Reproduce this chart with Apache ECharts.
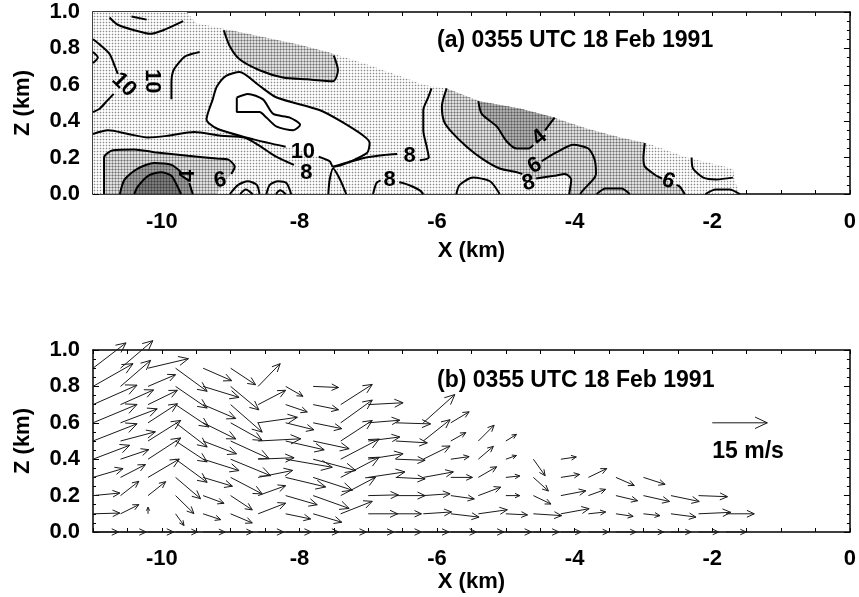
<!DOCTYPE html>
<html>
<head>
<meta charset="utf-8">
<script src="https://cdn.jsdelivr.net/npm/echarts/dist/echarts.min.js"></script>
<style>
html,body{margin:0;padding:0;background:#fff;}
#chart{width:859px;height:597px;}
</style>
</head>
<body>
<div id="chart"></div>
<script>
// ======================= DATA =======================
const X_TICK_LABELS = [-10, -8, -6, -4, -2, 0];
const Z_TICK_LABELS = [0.0, 0.2, 0.4, 0.6, 0.8, 1.0];
const X_AXIS_NAME = 'X (km)';
const Z_AXIS_NAME = 'Z (km)';
const TITLE_A = '(a) 0355 UTC 18 Feb 1991';
const TITLE_B = '(b) 0355 UTC 18 Feb 1991';
const TITLE_POS_A = [-6.0, 0.845];
const TITLE_POS_B = [-6.0, 0.83];
const REF_VECTOR = [-2.0, 0.6, 15, 0];       // x, z, u (m/s), w
const REF_LABEL = '15 m/s';
const REF_LABEL_POS = [-2.0, 0.44];
const REF_VECTOR_KM = 0.8;                   // 15 m/s drawn as 0.8 km of x

// ---- panel (a): shaded regions (x km, z km) ----
const DATA_REGION = [[-11,0],[-11,1.0],[-9.64,1.0],[-9.5,0.94],[-9.0,0.9],[-8.5,0.86],[-8.0,0.82],[-7.5,0.77],[-7.0,0.71],[-6.55,0.65],[-6.2,0.6],[-5.86,0.58],[-5.38,0.51],[-4.8,0.47],[-4.31,0.42],[-3.83,0.36],[-3.34,0.31],[-2.95,0.28],[-2.37,0.2],[-1.7,0.14],[-1.66,0.06],[-1.6,0]];
const REGION_UPPER_MID = [[-9.1,0.9],[-9.01,0.81],[-8.87,0.74],[-8.58,0.68],[-8.24,0.64],[-7.89,0.63],[-7.51,0.62],[-7.44,0.68],[-7.5,0.77],[-8.0,0.82],[-8.5,0.86],[-9.0,0.9]];
const REGION_LOW_LEFT = [[-10.84,0],[-10.84,0.2],[-10.71,0.24],[-10.4,0.245],[-10.11,0.23],[-9.62,0.21],[-9.2,0.195],[-9.04,0.19],[-8.94,0.15],[-8.99,0.11],[-9.1,0.06],[-9.2,0]];
const REGION_RIGHT = [[-5.86,0.58],[-5.38,0.51],[-4.8,0.47],[-4.31,0.42],[-3.83,0.36],[-3.34,0.31],[-2.98,0.28],[-3.0,0.2],[-2.98,0.15],[-2.81,0.1],[-2.64,0.07],[-2.47,0.04],[-2.4,0],[-4.08,0],[-4.05,0.08],[-4.14,0.11],[-4.3,0.1],[-4.55,0.08],[-4.67,0.08],[-4.75,0.11],[-4.84,0.12],[-5.09,0.14],[-5.33,0.19],[-5.57,0.26],[-5.81,0.35],[-5.9,0.4],[-5.93,0.48]];
const REGION_FOUR = [[-5.4,0.51],[-5.35,0.44],[-5.13,0.37],[-4.99,0.29],[-4.84,0.25],[-4.67,0.25],[-4.51,0.31],[-4.39,0.37],[-4.29,0.42],[-4.8,0.47]];
const REGION_BAND = [[-10.61,0],[-10.54,0.08],[-10.35,0.14],[-10.11,0.17],[-9.86,0.16],[-9.69,0.11],[-9.6,0.07],[-9.55,0]];
const REGION_CORE = [[-10.4,0],[-10.35,0.04],[-10.2,0.1],[-10.01,0.12],[-9.86,0.1],[-9.77,0.04],[-9.72,0]];
const REGION_WHITE = [[-7.72,0.205],[-7.56,0.18],[-7.51,0.15],[-7.02,0.225],[-6.98,0.28],[-7.07,0.32],[-7.4,0.4],[-7.7,0.46],[-8.33,0.53],[-8.6,0.6],[-8.87,0.67],[-9.06,0.65],[-9.2,0.59],[-9.26,0.52],[-9.35,0.41],[-9.2,0.36],[-8.67,0.3],[-8.2,0.26],[-7.95,0.235]];

// ---- panel (a): contour lines ----
const CONTOUR_10_LOOP = [[-7.72,0.205],[-7.56,0.18],[-7.51,0.15],[-7.02,0.225],[-6.98,0.28],[-7.07,0.32],[-7.4,0.4],[-7.7,0.46],[-8.33,0.53],[-8.6,0.6],[-8.87,0.67],[-9.06,0.65],[-9.2,0.59],[-9.26,0.52],[-9.35,0.41],[-9.2,0.36],[-8.67,0.3],[-8.2,0.26]];
const CONTOUR_12 = [[-8.91,0.53],[-8.75,0.55],[-8.53,0.52],[-8.38,0.44],[-8.14,0.42],[-7.99,0.38],[-8.09,0.35],[-8.33,0.37],[-8.48,0.42],[-8.58,0.45],[-8.91,0.45],[-8.91,0.53]];
const CONTOUR_8_LEFT = [[-11,0.33],[-10.78,0.35],[-10.49,0.33],[-10.2,0.31],[-9.91,0.32],[-9.53,0.34],[-9.14,0.32],[-8.8,0.31],[-8.6,0.27],[-8.36,0.21],[-8.08,0.16]];
const CONTOUR_8_WEDGE = [[-7.58,0],[-7.56,0.08],[-7.51,0.14],[-7.41,0.08],[-7.32,0]];
const CONTOUR_8_RIGHT_A = [[-7.51,0.15],[-7.03,0.2],[-6.75,0.215],[-6.58,0.22]];
const CONTOUR_8_RIGHT_B = [[-6.25,0.185],[-6.12,0.2],[-6.15,0.26],[-6.2,0.35],[-6.2,0.46],[-6.13,0.53],[-6.08,0.58]];
const CONTOUR_8_BOTTOM_A = [[-6.93,0],[-6.88,0.06],[-6.82,0.075]];
const CONTOUR_8_BOTTOM_B = [[-6.55,0.065],[-6.49,0.06],[-6.35,0.04],[-6.25,0.02],[-6.2,0]];
const CONTOUR_8_UPPER = [[-9.1,0.9],[-9.01,0.81],[-8.87,0.74],[-8.58,0.68],[-8.24,0.64],[-7.89,0.63],[-7.51,0.62],[-7.44,0.68],[-7.5,0.76]];
const CONTOUR_TOP_LEFT = [[-10.76,0.97],[-10.64,0.93],[-10.4,0.9],[-10.17,0.88],[-9.98,0.9],[-9.69,0.95]];
const CONTOUR_TOP_DASH = [[-10.44,0.975],[-10.22,0.958]];
const CONTOUR_10_LEFT_A = [[-11,0.85],[-10.9,0.82],[-10.76,0.77],[-10.68,0.7],[-10.64,0.66]];
const CONTOUR_10_LEFT_B = [[-10.7,0.55],[-10.8,0.51],[-10.9,0.47],[-11,0.45]];
const CONTOUR_LEFT_BUMP = [[-11,0.78],[-10.93,0.75],[-11,0.72]];
const CONTOUR_10_VERT = [[-9.86,0.52],[-9.86,0.61],[-9.83,0.68],[-9.71,0.74],[-9.64,0.76],[-9.45,0.78]];
const CONTOUR_6_LEFT = [[-10.84,0],[-10.84,0.2],[-10.71,0.24],[-10.4,0.245],[-10.11,0.23],[-9.62,0.21],[-9.2,0.195],[-9.04,0.19],[-8.94,0.15],[-8.99,0.11]];
const CONTOUR_4_ARCH = [[-10.61,0],[-10.54,0.08],[-10.35,0.14],[-10.11,0.17],[-9.86,0.16],[-9.72,0.12]];
const CONTOUR_4_ARCH_END = [[-9.6,0.06],[-9.55,0]];
const CONTOUR_2_ARCH = [[-10.4,0],[-10.35,0.04],[-10.2,0.1],[-10.01,0.12],[-9.86,0.1],[-9.77,0.04],[-9.72,0]];
const CONTOUR_BUMP_1 = [[-9.01,0],[-8.89,0.05],[-8.75,0.07],[-8.62,0.05],[-8.58,0]];
const CONTOUR_BUMP_1_IN = [[-8.86,0],[-8.78,0.025],[-8.68,0]];
const CONTOUR_BUMP_2 = [[-8.48,0],[-8.43,0.05],[-8.31,0.07],[-8.19,0.06],[-8.12,0]];
const CONTOUR_BUMP_2_IN = [[-8.34,0],[-8.28,0.02],[-8.2,0]];
const CONTOUR_BUMP_3 = [[-5.72,0],[-5.67,0.05],[-5.48,0.09],[-5.23,0.07],[-5.09,0]];
const CONTOUR_BUMP_4 = [[-3.68,0],[-3.55,0.03],[-3.32,0.03],[-3.2,0]];
const CONTOUR_BUMP_5 = [[-2.1,0],[-1.95,0.025],[-1.75,0.025],[-1.6,0]];
const CONTOUR_8_MID_RIGHT = [[-5.86,0.58],[-5.93,0.48],[-5.9,0.4],[-5.81,0.35],[-5.57,0.26],[-5.33,0.19],[-5.09,0.14],[-4.84,0.12],[-4.76,0.11]];
const CONTOUR_8_LOWER_RIGHT = [[-4.56,0.085],[-4.3,0.1],[-4.14,0.11],[-4.05,0.08],[-4.08,0]];
const CONTOUR_6_ARCH = [[-4.48,0.18],[-4.26,0.23],[-4.02,0.27],[-3.8,0.25],[-3.71,0.19],[-3.69,0.11],[-3.73,0.08],[-3.88,0.02],[-3.92,0]];
const CONTOUR_4_RIGHT_A = [[-5.4,0.51],[-5.35,0.44],[-5.13,0.37],[-4.99,0.29],[-4.84,0.25],[-4.67,0.25],[-4.6,0.27]];
const CONTOUR_4_RIGHT_B = [[-4.43,0.35],[-4.39,0.37],[-4.29,0.42]];
const CONTOUR_6_FAR_A = [[-2.98,0.28],[-3.0,0.2],[-2.98,0.15],[-2.81,0.1],[-2.73,0.085]];
const CONTOUR_6_FAR_B = [[-2.52,0.05],[-2.47,0.04],[-2.4,0]];
const CONTOUR_LAST = [[-2.3,0.2],[-2.28,0.14],[-2.13,0.09],[-1.94,0.08],[-1.7,0.09]];

const CONTOUR_LABEL_TEXT = ['10', '10', '10', '8', '8', '8', '6', '4', '4', '6', '8', '6'];
const CONTOUR_LABEL_X    = [-10.55, -10.14, -7.95, -7.9, -6.4, -6.69, -9.15, -9.62, -4.51, -4.58, -4.67, -2.64];
const CONTOUR_LABEL_Z    = [0.6, 0.62, 0.23, 0.115, 0.21, 0.075, 0.075, 0.1, 0.31, 0.155, 0.06, 0.07];

// ---- panel (b): wind vectors (u, w in m/s) on grid columns x and rows z ----
const X_COLS = [-11, -10.6, -10.2, -9.8, -9.4, -9.0, -8.6, -8.2, -7.8, -7.4, -7.0, -6.6, -6.2, -5.8, -5.4, -5.0, -4.6, -4.2, -3.8, -3.4, -3.0, -2.6, -2.2, -1.8, -1.4];
const Z_ROWS = [0.0, 0.1, 0.2, 0.3, 0.4, 0.5, 0.6, 0.7, 0.8, 0.9];
const U_Z0 = [7,7,7,6,6,6,7,7,7,7,7,7,7,7,7,7,7,5.5,5.5,5.5,5.5,5.5,5.5,5.5,null];
const W_Z0 = [0,0,0,0,0,0,0,0,0,0,0,0,0,0,0,0,0,0,0,0,0,0,0,0,null];
const U_Z1 = [7.3,5,0,2.3,4.8,5.9,7.5,6.8,7.8,8.6,8,7,7.7,7.7,7.9,5.9,7.7,7.7,4.7,4.7,4.5,6.8,8.8,7.7,null];
const W_Z1 = [0.2,2.5,1.8,-3.2,-1.6,-2.5,2.9,-1.4,-2.3,3.4,0,0,0.5,-0.9,1.1,-0.3,-0.5,1.4,0.5,-0.7,-0.5,-0.9,0.4,0,null];
const U_Z2 = [7.3,5,4.8,5,5.7,5.9,7.5,8.6,9.8,9.5,8.2,8,7.3,6.4,6.1,3.8,4.8,6.8,4.7,5.9,7.1,7.7,7.9,null,null];
const W_Z2 = [0.7,3.9,3.8,-4.9,-2.1,-3.9,2.7,-2.5,-3.5,5,0.2,0,0.5,-0.9,2.3,0,-2.3,1.3,1.7,-1.4,-1.6,-1.6,-0.3,null,null];
const U_Z3 = [8.2,6.8,8.5,6.8,8,8.6,9.4,10.9,10.7,10.5,10,8,8.2,5.9,5,3.8,4.1,5.1,5,5,5.9,null,null,null,null];
const W_Z3 = [2.4,3.5,5,-5.8,-2.4,-4.5,1.9,-2.6,-3.5,5.5,1.5,-0.4,1.5,0,2.9,0.4,-3.7,0.8,2.4,-2.2,-1.9,null,null,null,null];
const U_Z4 = [10,7.7,8.9,8.6,9.8,10.9,9.8,12.7,11.6,10.5,9.5,8,7.3,5,4.1,2.9,3.2,4.2,null,null,null,null,null,null,null];
const W_Z4 = [3.8,2.6,5.8,-6.3,-3.1,-4.5,0.4,-2.2,-3.1,5.5,1.5,-0.3,3.6,0.7,3.5,1,-4.5,0.6,null,null,null,null,null,null,null];
const U_Z5 = [12,9.5,8.9,8.6,9.1,10.5,11.6,10.5,9.8,8.6,8.6,8.6,7.3,4.1,4.3,2.9,null,null,null,null,null,null,null,null,null];
const W_Z5 = [4.7,2.5,5.6,-5.7,-3.5,-4.8,0.6,-2.4,-2.1,5.6,1.1,-0.5,5.8,2.3,4.3,1.8,null,null,null,null,null,null,null,null,null];
const U_Z6 = [12,10,8,8.6,8.9,8.6,10.7,7.7,7.8,8.6,8.6,9.5,8.6,5,null,null,null,null,null,null,null,null,null,null,null];
const W_Z6 = [5,3.8,5.2,-6.6,-4.4,-4.8,1.5,-1.9,-1.6,6.2,0.7,-0.3,7.7,3,null,null,null,null,null,null,null,null,null,null,null];
const U_Z7 = [12,9,8,9.1,8.9,8.6,7.5,5.9,6.9,8.6,9.5,null,null,null,null,null,null,null,null,null,null,null,null,null,null];
const W_Z7 = [5.3,4,3.9,-6.1,-3.8,-7.5,3.9,-2,-1.4,5.5,0.5,null,null,null,null,null,null,null,null,null,null,null,null,null,null];
const U_Z8 = [10.9,8.2,7.5,8.6,9.8,7.7,6,4.7,6.9,null,null,null,null,null,null,null,null,null,null,null,null,null,null,null,null];
const W_Z8 = [6.2,7.1,3.2,-5.9,-3,-6.4,6.2,-2.7,-0.3,null,null,null,null,null,null,null,null,null,null,null,null,null,null,null,null];
const U_Z9 = [9,8.8,11,8.6,7.8,6.8,null,null,null,null,null,null,null,null,null,null,null,null,null,null,null,null,null,null,null];
const W_Z9 = [6.9,7.5,2.6,-6.3,-3.4,-4.5,null,null,null,null,null,null,null,null,null,null,null,null,null,null,null,null,null,null,null];

// ======================= STYLE / BUILD =======================
const FONT = '"Liberation Sans", Arial, Helvetica, sans-serif';
const TICK_FONT_SIZE = 22;
const U_ROWS = [U_Z0,U_Z1,U_Z2,U_Z3,U_Z4,U_Z5,U_Z6,U_Z7,U_Z8,U_Z9];
const W_ROWS = [W_Z0,W_Z1,W_Z2,W_Z3,W_Z4,W_Z5,W_Z6,W_Z7,W_Z8,W_Z9];

function makePattern(center, arm, corner) {
  const c = document.createElement('canvas');
  c.width = 3; c.height = 3;
  const ctx = c.getContext('2d');
  ctx.fillStyle = corner; ctx.fillRect(0, 0, 3, 3);
  ctx.fillStyle = arm; ctx.fillRect(1, 0, 1, 3); ctx.fillRect(0, 1, 3, 1);
  ctx.fillStyle = center; ctx.fillRect(1, 1, 1, 1);
  return { image: c, repeat: 'repeat' };
}
const FILLS = {
  light: makePattern('#8c8c8c', '#e2e2e2', '#ffffff'),
  medium: makePattern('#6e6e6e', '#a8a8a8', '#dedede'),
  dark: makePattern('#5a5a5a', '#848484', '#acacac'),
  band: makePattern('#555555', '#7a7a7a', '#9a9a9a'),
  core: makePattern('#3c3c3c', '#5a5a5a', '#7a7a7a'),
  white: '#ffffff'
};
const SHADES = [
  [DATA_REGION, 'light'], [REGION_UPPER_MID, 'medium'], [REGION_LOW_LEFT, 'medium'],
  [REGION_RIGHT, 'medium'], [REGION_FOUR, 'dark'], [REGION_BAND, 'band'],
  [REGION_CORE, 'core'], [REGION_WHITE, 'white']
];
const CONTOURS = [CONTOUR_10_LOOP, CONTOUR_12, CONTOUR_8_LEFT, CONTOUR_8_WEDGE, CONTOUR_8_RIGHT_A, CONTOUR_8_RIGHT_B,
  CONTOUR_8_BOTTOM_A, CONTOUR_8_BOTTOM_B, CONTOUR_8_UPPER, CONTOUR_TOP_LEFT, CONTOUR_TOP_DASH, CONTOUR_10_LEFT_A,
  CONTOUR_10_LEFT_B, CONTOUR_LEFT_BUMP, CONTOUR_10_VERT, CONTOUR_6_LEFT, CONTOUR_4_ARCH, CONTOUR_4_ARCH_END,
  CONTOUR_2_ARCH, CONTOUR_BUMP_1, CONTOUR_BUMP_1_IN, CONTOUR_BUMP_2, CONTOUR_BUMP_2_IN, CONTOUR_BUMP_3,
  CONTOUR_BUMP_4, CONTOUR_BUMP_5, CONTOUR_8_MID_RIGHT, CONTOUR_8_LOWER_RIGHT, CONTOUR_6_ARCH,
  CONTOUR_4_RIGHT_A, CONTOUR_4_RIGHT_B, CONTOUR_6_FAR_A, CONTOUR_6_FAR_B, CONTOUR_LAST];
const LABEL_ROTATION_DEG = [-45, -90, 0, 0, 0, 0, 10, 90, 40, 30, 15, -20];

const vectorData = [];
Z_ROWS.forEach((z, r) => {
  X_COLS.forEach((x, c) => {
    const u = U_ROWS[r][c], w = W_ROWS[r][c];
    if (u !== null && w !== null) vectorData.push([x, z, u, w]);
  });
});

function arrowItem(params, api) {
  const x = api.value(0), z = api.value(1), u = api.value(2), w = api.value(3);
  const p0 = api.coord([x, z]);
  const s = api.size([REF_VECTOR_KM, 0])[0] / REF_VECTOR[2];
  const dx = u * s, dy = -w * s;
  const len = Math.sqrt(dx * dx + dy * dy);
  const p1 = [p0[0] + dx, p0[1] + dy];
  const children = [{ type: 'line', shape: { x1: p0[0], y1: p0[1], x2: p1[0], y2: p1[1] },
    style: { stroke: '#1a1a1a', lineWidth: 1 } }];
  if (len > 0.5) {
    const hl = Math.min(14, 2.5 + 0.2 * len);
    const ang = Math.atan2(dy, dx), a = 25 * Math.PI / 180;
    const h1 = [p1[0] - hl * Math.cos(ang - a), p1[1] - hl * Math.sin(ang - a)];
    const h2 = [p1[0] - hl * Math.cos(ang + a), p1[1] - hl * Math.sin(ang + a)];
    children.push({ type: 'polyline', shape: { points: [h1, p1, h2] },
      style: { stroke: '#1a1a1a', lineWidth: 1, fill: null } });
  }
  return { type: 'group', children: children };
}

function textItem(txt, rotDeg, align, size) {
  return function (params, api) {
    const p = api.coord([api.value(0), api.value(1)]);
    const t = typeof txt === 'function' ? txt(params.dataIndex) : txt;
    const rot = typeof rotDeg === 'function' ? rotDeg(params.dataIndex) : rotDeg;
    return { type: 'text', x: p[0], y: p[1], rotation: rot * Math.PI / 180,
      style: { text: t, fill: '#000', font: 'bold ' + size + 'px ' + FONT,
        align: align, verticalAlign: 'middle', textAlign: align, textVerticalAlign: 'middle' } };
  };
}

const labelStyle = { color: '#000', fontSize: TICK_FONT_SIZE, fontWeight: 'bold', fontFamily: FONT };
function xAxesFor(g, nameGap, margin) {
  return [
    { gridIndex: g, type: 'value', min: -11, max: 0, interval: 0.5, position: 'bottom',
      axisLine: { onZero: false, lineStyle: { color: '#000', width: 1.5 } },
      axisTick: { inside: true, length: 4, lineStyle: { color: '#000', width: 1 } },
      axisLabel: Object.assign({ margin: margin, formatter: v => X_TICK_LABELS.indexOf(v) >= 0 ? String(v) : '' }, labelStyle),
      splitLine: { show: false },
      name: X_AXIS_NAME, nameLocation: 'middle', nameGap: nameGap,
      nameTextStyle: { color: '#000', fontSize: TICK_FONT_SIZE, fontWeight: 'bold', fontFamily: FONT } },
    { gridIndex: g, type: 'value', min: -11, max: 0, interval: 0.5, position: 'top',
      axisLine: { onZero: false, lineStyle: { color: '#000', width: 1.5 } },
      axisTick: { inside: true, length: 4, lineStyle: { color: '#000', width: 1 } },
      axisLabel: { show: false }, splitLine: { show: false } }
  ];
}
function yAxesFor(g) {
  return [
    { gridIndex: g, type: 'value', min: 0, max: 1, interval: 0.2, position: 'left',
      axisLine: { onZero: false, lineStyle: { color: '#000', width: 1.5 } },
      axisTick: { inside: true, length: 6, lineStyle: { color: '#000', width: 1 } },
      minorTick: { show: true, splitNumber: 4, length: 3, lineStyle: { color: '#000', width: 1 } },
      axisLabel: Object.assign({ margin: 13, formatter: v => {
        const m = Z_TICK_LABELS.find(t => Math.abs(t - v) < 1e-6);
        return m === undefined ? '' : m.toFixed(1); } }, labelStyle),
      splitLine: { show: false }, minorSplitLine: { show: false },
      name: Z_AXIS_NAME, nameLocation: 'middle', nameRotate: 90, nameGap: 59,
      nameTextStyle: { color: '#000', fontSize: TICK_FONT_SIZE, fontWeight: 'bold', fontFamily: FONT } },
    { gridIndex: g, type: 'value', min: 0, max: 1, interval: 0.2, position: 'right',
      axisLine: { onZero: false, lineStyle: { color: '#000', width: 1.5 } },
      axisTick: { inside: true, length: 6, lineStyle: { color: '#000', width: 1 } },
      minorTick: { show: true, splitNumber: 4, length: 3, lineStyle: { color: '#000', width: 1 } },
      axisLabel: { show: false }, splitLine: { show: false } }
  ];
}

const series = [];
// shading
series.push({
  type: 'custom', xAxisIndex: 0, yAxisIndex: 0, z: 1, silent: true,
  data: SHADES.map(s => [s[0][0][0], s[0][0][1]]),
  renderItem: function (params, api) {
    const sh = SHADES[params.dataIndex];
    return { type: 'polygon', shape: { points: sh[0].map(p => api.coord(p)) },
      style: { fill: FILLS[sh[1]], stroke: null } };
  }
});
// contour lines
CONTOURS.forEach(c => {
  series.push({ type: 'line', xAxisIndex: 0, yAxisIndex: 0, z: 3, silent: true,
    data: c, symbol: 'none', showSymbol: false, smooth: 0.25,
    lineStyle: { color: '#000', width: 2 } });
});
// contour labels
series.push({
  type: 'custom', xAxisIndex: 0, yAxisIndex: 0, z: 4, silent: true,
  data: CONTOUR_LABEL_X.map((x, i) => [x, CONTOUR_LABEL_Z[i]]),
  renderItem: textItem(i => CONTOUR_LABEL_TEXT[i], i => LABEL_ROTATION_DEG[i], 'center', 22)
});
// title a
series.push({ type: 'custom', xAxisIndex: 0, yAxisIndex: 0, z: 4, silent: true,
  data: [TITLE_POS_A], renderItem: textItem(TITLE_A, 0, 'left', 23) });
// vectors
series.push({ type: 'custom', xAxisIndex: 2, yAxisIndex: 2, z: 3, silent: true,
  data: vectorData, encode: { x: 0, y: 1 }, renderItem: arrowItem });
series.push({ type: 'custom', xAxisIndex: 2, yAxisIndex: 2, z: 3, silent: true,
  data: [REF_VECTOR], encode: { x: 0, y: 1 }, renderItem: arrowItem });
series.push({ type: 'custom', xAxisIndex: 2, yAxisIndex: 2, z: 4, silent: true,
  data: [REF_LABEL_POS], renderItem: textItem(REF_LABEL, 0, 'left', 23) });
series.push({ type: 'custom', xAxisIndex: 2, yAxisIndex: 2, z: 4, silent: true,
  data: [TITLE_POS_B], renderItem: textItem(TITLE_B, 0, 'left', 23) });

const option = {
  animation: false,
  backgroundColor: '#ffffff',
  grid: [
    { left: 93, top: 12, width: 757, height: 182 },
    { left: 93, top: 350, width: 757, height: 182 }
  ],
  xAxis: xAxesFor(0, 46, 17).concat(xAxesFor(1, 35, 16)),
  yAxis: yAxesFor(0).concat(yAxesFor(1)),
  series: series
};

const chart = echarts.init(document.getElementById('chart'), null, { renderer: 'canvas' });
chart.setOption(option);
</script>
</body>
</html>
